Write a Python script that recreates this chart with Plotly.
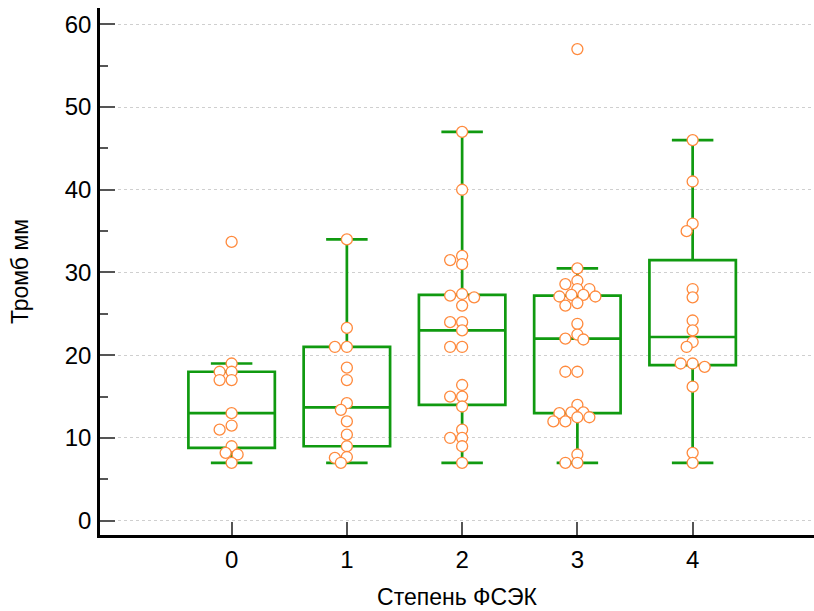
import plotly.graph_objects as go

# Thrombus size (mm) by FSEK grade
grades = [0, 1, 2, 3, 4]
grade_labels = ["0", "1", "2", "3", "4"]

thrombus_g0 = [33.7, 19, 18, 18, 17, 17, 13, 11.5, 11, 9, 8.2, 8, 7]
thrombus_g1 = [34, 23.3, 21, 21, 18.5, 17, 14.2, 13.4, 12, 10.4, 9, 7.7, 7.6, 7]
thrombus_g2 = [47, 40, 32, 31.5, 31, 27.4, 27.2, 27, 26, 24, 24, 23, 21, 21,
               16.4, 15, 15, 13.8, 11, 10, 10, 9, 7]
thrombus_g3 = [57, 30.5, 29, 28.6, 28, 28, 27.3, 27.3, 27.1, 27.1, 26.3, 26,
               23.8, 22.5, 22, 21.9, 18, 18, 14, 13.1, 13.1, 13, 12.5, 12.5,
               12, 12, 8, 7, 7]
thrombus_g4 = [46, 41, 35.9, 35, 28, 27, 24.2, 23, 21.6, 21, 19, 19, 18.6,
               16.2, 8.2, 7]

# Box statistics per grade
box_lower = [7, 7, 7, 7, 7]
box_q1 = [8.8, 9, 14, 13, 18.8]
box_median = [13, 13.7, 23, 22, 22.2]
box_q3 = [18, 21, 27.3, 27.2, 31.5]
box_upper = [19, 34, 47, 30.5, 46]

groups = [thrombus_g0, thrombus_g1, thrombus_g2, thrombus_g3, thrombus_g4]

# Figure geometry
W, H = 814, 611
M_L, M_R, M_T, M_B = 100, 0, 8, 76
X_RANGE = [-1.142, 5.053]
Y_RANGE = [-1.73, 61.97]
px_per_x = (W - M_L - M_R) / (X_RANGE[1] - X_RANGE[0])
px_per_y = (H - M_T - M_B) / (Y_RANGE[1] - Y_RANGE[0])

GREEN = "#109a10"
ORANGE = "#ff8a3d"


def swarm(values, step=6.0, min_dist=7.6):
    """Simple beeswarm: place each point at the nearest free horizontal slot."""
    placed = []
    offsets = [0.0] * len(values)
    order = sorted(range(len(values)), key=lambda i: -values[i])
    for i in order:
        yp = values[i] * px_per_y
        k = 0
        while True:
            slot = 0 if k == 0 else ((k + 1) // 2) * (-1 if k % 2 else 1)
            xp = slot * step
            if all(((xp - a) ** 2 + (yp - b) ** 2) ** 0.5 >= min_dist for a, b in placed):
                break
            k += 1
        placed.append((xp, yp))
        offsets[i] = xp / px_per_x
    return offsets


fig = go.Figure()

fig.add_trace(go.Box(
    x=grades,
    q1=box_q1,
    median=box_median,
    q3=box_q3,
    lowerfence=box_lower,
    upperfence=box_upper,
    boxpoints=False,
    width=0.75,
    whiskerwidth=0.48,
    line=dict(color=GREEN, width=2.7),
    fillcolor="rgba(0,0,0,0)",
    showlegend=False,
    hoverinfo="skip",
))

for g, vals in zip(grades, groups):
    offs = swarm(vals)
    fig.add_trace(go.Scatter(
        x=[g + o for o in offs],
        y=vals,
        mode="markers",
        marker=dict(size=11, color="white", line=dict(color=ORANGE, width=1.3)),
        showlegend=False,
    ))

font_family = "Liberation Sans, Arial, sans-serif"
tick_font = dict(family=font_family, size=24, color="black")
title_font = dict(family=font_family, size=23, color="black")

fig.update_layout(
    width=W, height=H,
    margin=dict(l=M_L, r=M_R, t=M_T, b=M_B),
    plot_bgcolor="white",
    paper_bgcolor="white",
    font=dict(family=font_family, size=23, color="black"),
)

fig.update_xaxes(
    range=X_RANGE,
    tickmode="array",
    tickvals=grades,
    ticktext=grade_labels,
    ticks="inside",
    ticklen=13,
    tickwidth=2,
    tickcolor="#555555",
    tickfont=tick_font,
    showline=True,
    linecolor="black",
    linewidth=2.6,
    showgrid=False,
    zeroline=False,
    ticklabelstandoff=1,
    title=dict(text="Степень ФСЭК", font=title_font, standoff=18),
)

fig.update_yaxes(
    range=Y_RANGE,
    tickmode="linear",
    tick0=0,
    dtick=10,
    ticks="inside",
    ticklen=15,
    tickwidth=2,
    tickcolor="#555555",
    tickfont=tick_font,
    minor=dict(ticks="inside", ticklen=8, tickwidth=1.5, tickcolor="#555555",
               dtick=5, showgrid=False),
    showline=True,
    linecolor="black",
    linewidth=2.6,
    showgrid=True,
    gridcolor="#cfcfcf",
    griddash="dot",
    gridwidth=1,
    zeroline=False,
    ticklabelstandoff=1,
    title=dict(text="Тромб мм", font=title_font, standoff=30),
)

fig.write_html("out.html")
